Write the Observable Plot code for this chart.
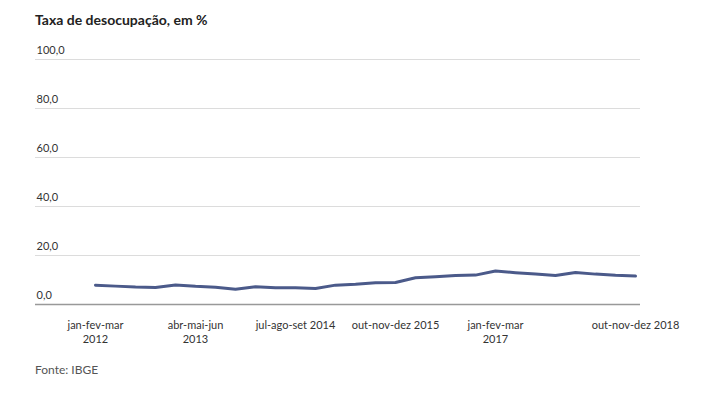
<!DOCTYPE html>
<html><head><meta charset="utf-8">
<script src="https://cdn.jsdelivr.net/npm/d3@7"></script>
<script src="https://cdn.jsdelivr.net/npm/@observablehq/plot@0.6"></script>
<style>
body{margin:0;background:#fff;font-family:Lato,sans-serif;}
#title{position:absolute;left:35px;top:11px;font-size:14px;font-weight:bold;color:#222;}
#chart{position:absolute;left:0;top:35px;}
#source{position:absolute;left:35px;top:362px;font-size:12px;color:#555;}
</style></head><body>
<div id="title">Taxa de desocupação, em %</div>
<div id="chart"></div>
<div id="source">Fonte: IBGE</div>
<script>
const months = ["jan-fev-mar","abr-mai-jun","jul-ago-set","out-nov-dez"];
const years = [2012,2013,2014,2015,2016,2017,2018];
const quarters = years.flatMap(y => months.map(m => m + " " + y));
const rates = [7.9,7.5,7.1,6.9, 8.0,7.4,7.0,6.2, 7.2,6.8,6.8,6.5, 7.9,8.3,8.9,9.0, 10.9,11.3,11.8,12.0, 13.7,13.0,12.4,11.8, 13.1,12.4,11.9,11.6];
const yTicks = [0,20,40,60,80,100];
const tickQuarters = ["jan-fev-mar 2012","abr-mai-jun 2013","jul-ago-set 2014","out-nov-dez 2015","jan-fev-mar 2017","out-nov-dez 2018"];
const tickLabels = ["jan-fev-mar\n2012","abr-mai-jun\n2013","jul-ago-set 2014","out-nov-dez 2015","jan-fev-mar\n2017","out-nov-dez 2018"];

const data = quarters.map((q,i) => ({q, v: rates[i]}));
const labelOf = new Map(tickQuarters.map((q,i) => [q, tickLabels[i]]));

const chart = Plot.plot({
  width: 670,
  height: 315,
  marginTop: 24,
  marginBottom: 46,
  marginLeft: 35,
  marginRight: 30,
  style: {overflow: "visible", fontFamily: "Lato, sans-serif", background: "white"},
  x: {type: "point", domain: quarters, padding: 0, insetLeft: 55, label: null},
  y: {domain: [0, 100], axis: null},
  marks: [
    Plot.ruleY(yTicks.filter(d => d > 0), {stroke: "#dcdcdc"}),
    Plot.ruleY([0], {stroke: "#999", strokeWidth: 1.5}),
    Plot.text(yTicks, {y: d => d, frameAnchor: "left", text: d => d.toFixed(1).replace(".", ","), textAnchor: "start", dy: -9, dx: 1, fill: "#333", fontSize: 11}),
    Plot.line(data, {x: "q", y: "v", stroke: "#4b5a8a", strokeWidth: 3}),
    Plot.axisX({ticks: tickQuarters, tickFormat: d => labelOf.get(d), tickSize: 0, tickPadding: 14, fontSize: 11, fill: "#333", lineHeight: 1.3, label: null})
  ]
});
document.getElementById("chart").appendChild(chart);
</script>
</body></html>
